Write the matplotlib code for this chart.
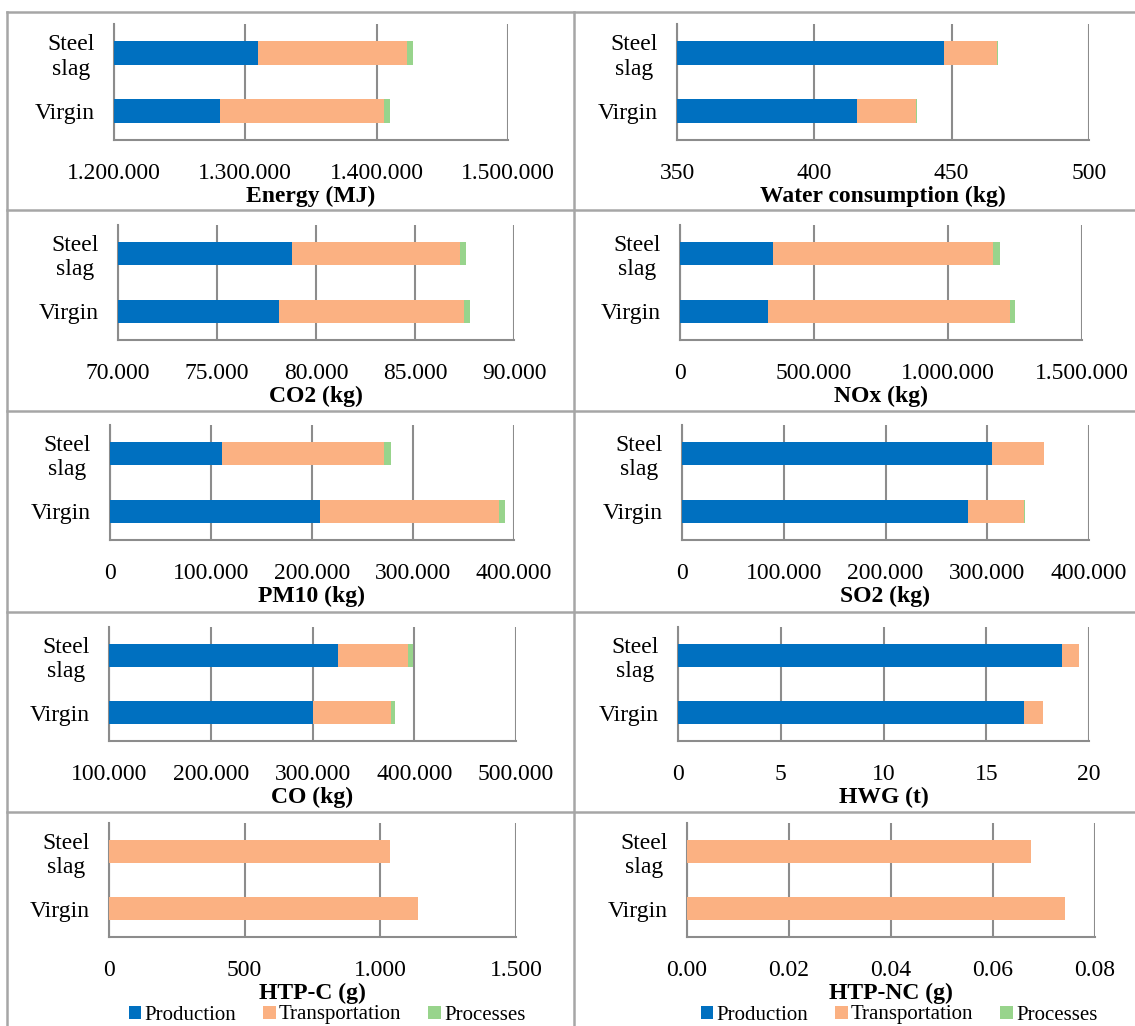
import matplotlib
matplotlib.use("Agg")
import matplotlib.pyplot as plt
from matplotlib.lines import Line2D
from matplotlib.patches import Patch

# ---------------- data ----------------
categories = ["Virgin", "Steel\nslag"]
series_names = ["Production", "Transportation", "Processes"]

panel_titles = ["Energy (MJ)", "Water consumption (kg)", "CO2 (kg)", "NOx (kg)",
                "PM10 (kg)", "SO2 (kg)", "CO (kg)", "HWG (t)", "HTP-C (g)", "HTP-NC (g)"]

# values per panel: [Virgin, Steel slag]
production = [
    [1281000, 1310000],
    [415.6, 447.1],
    [78150, 78800],
    [328000, 345500],
    [208300, 110600],
    [281100, 305000],
    [300700, 325000],
    [16.85, 18.67],
    [0, 0],
    [0, 0],
]
transportation = [
    [124500, 113000],
    [21.5, 19.5],
    [9320, 8450],
    [902000, 824000],
    [177300, 161100],
    [55300, 50400],
    [76100, 68900],
    [0.92, 0.83],
    [1137, 1035],
    [0.0742, 0.0674],
]
processes = [
    [4500, 5000],
    [0.4, 0.4],
    [330, 350],
    [21600, 24400],
    [5800, 6100],
    [700, 600],
    [4600, 5000],
    [0.01, 0.01],
    [0, 0],
    [0, 0],
]

x_min = [1200000, 350, 70000, 0, 0, 0, 100000, 0, 0, 0.0]
x_max = [1500000, 500, 90000, 1500000, 400000, 400000, 500000, 20, 1500, 0.08]
x_step = [100000, 50, 5000, 500000, 100000, 100000, 100000, 5, 500, 0.02]
decimals = [0, 0, 0, 0, 0, 0, 0, 0, 0, 2]

colors = ["#0070C0", "#FBB182", "#98D48C"]
grid_gray = "#8C8C8C"
border_gray = "#A6A6A6"

W, H = 1135, 1026
fig = plt.figure(figsize=(W / 100, H / 100), dpi=100)
plt.rcParams["font.family"] = ["Liberation Serif", "DejaVu Serif"]

# axes pixel positions (left, right) per panel, and (top, bottom) per row
lr = [(114, 508), (677, 1089), (118, 514), (680, 1082), (110, 514),
      (682, 1089), (109, 516), (678, 1089), (109, 516), (687, 1095)]
rows = [(24, 140), (225, 340), (425, 540), (627, 741), (823, 937)]
legend_centers = [327, 899]


def fmt(v, d):
    if d:
        return f"{v:.{d}f}"
    return f"{int(round(v)):,}".replace(",", ".")


FS = 17
for i in range(10):
    r = i // 2
    l, rr = lr[i]
    t, b = rows[r]
    ax = fig.add_axes([l / W, 1 - b / H, (rr - l) / W, (b - t) / H])
    ypos = list(range(len(categories)))
    left = [0.0] * len(categories)
    for s, vals in enumerate([production[i], transportation[i], processes[i]]):
        ax.barh(ypos, vals, left=left, height=0.4, color=colors[s], zorder=3)
        left = [a + v for a, v in zip(left, vals)]
    ax.set_xlim(x_min[i], x_max[i])
    ax.set_ylim(-0.5, 1.5)
    n = int(round((x_max[i] - x_min[i]) / x_step[i]))
    ticks = [x_min[i] + k * x_step[i] for k in range(n + 1)]
    ax.set_xticks(ticks)
    ax.set_xticklabels([fmt(v, decimals[i]) for v in ticks])
    ax.set_yticks(ypos)
    ax.set_yticklabels(categories, multialignment="center", linespacing=1.2)
    ax.tick_params(axis="x", length=0, pad=16.5, labelsize=FS)
    ax.tick_params(axis="y", length=0, pad=14, labelsize=FS)
    ax.grid(axis="x", color=grid_gray, linewidth=1.5, zorder=0)
    for sp in ["top", "right"]:
        ax.spines[sp].set_visible(False)
    for sp in ["left", "bottom"]:
        ax.spines[sp].set_color(grid_gray)
        ax.spines[sp].set_linewidth(1.5)
    ax.set_xlabel(panel_titles[i], fontsize=FS, fontweight="bold", labelpad=1.5)
    ax.set_facecolor("none")

    if r == 4:
        handles = [Patch(facecolor=c, edgecolor="none") for c in colors]
        cx = legend_centers[i % 2] / W
        fig.legend(handles, series_names, loc="center", bbox_to_anchor=(cx, 1 - 1015 / H),
                   ncol=3, frameon=False, fontsize=15, handlelength=0.6, handleheight=0.6,
                   handletextpad=0.15, columnspacing=1.3, borderaxespad=0)

# table borders
def hline(y, x0=7, x1=W):
    fig.add_artist(Line2D([x0 / W, x1 / W], [1 - y / H, 1 - y / H], color=border_gray, linewidth=1.8))

def vline(x, y0=12, y1=H):
    fig.add_artist(Line2D([x / W, x / W], [1 - y0 / H, 1 - y1 / H], color=border_gray, linewidth=1.8))

for y in [12, 210, 411, 612, 812]:
    hline(y)
vline(7)
vline(574)

fig.savefig("out.png", dpi=100)
